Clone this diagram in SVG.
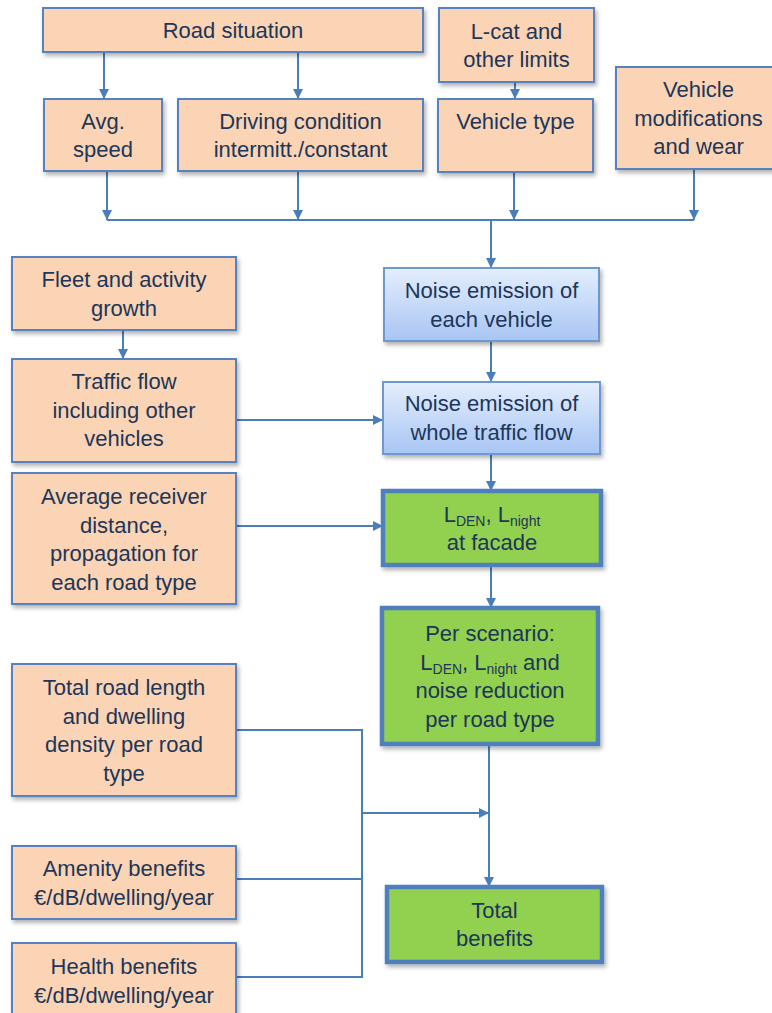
<svg xmlns="http://www.w3.org/2000/svg" width="772" height="1013" viewBox="0 0 772 1013">
<style>
.peach{fill:#FAD4B4;stroke:#5683BF;stroke-width:2}
.blue{fill:url(#bg);stroke:#6E98D0;stroke-width:2}
.green{fill:#92D050;stroke:#4F7FBD;stroke-width:4.5}
text{font-family:"Liberation Sans",Arial,sans-serif;font-size:22px;fill:#1D3659;text-anchor:middle}
.sub{font-size:14px}
.c{fill:none;stroke:#4A7EBB;stroke-width:2}
</style>
<defs>
<linearGradient id="bg" x1="0" y1="0" x2="0" y2="1">
<stop offset="0" stop-color="#E4EEFD"/>
<stop offset="1" stop-color="#A8C5F4"/>
</linearGradient>
<filter id="sh" x="-10%" y="-10%" width="130%" height="140%">
<feDropShadow dx="2" dy="3" stdDeviation="2" flood-color="#000" flood-opacity="0.3"/>
</filter>
<marker id="ah" markerUnits="userSpaceOnUse" markerWidth="12" markerHeight="12" refX="10" refY="5" orient="auto">
<path d="M0,0 L10,5 L0,10 z" fill="#4A7EBB"/>
</marker>
</defs>

<g id="connectors">
<path class="c" d="M104,52 V99" marker-end="url(#ah)"/>
<path class="c" d="M298,52 V99" marker-end="url(#ah)"/>
<path class="c" d="M515,82 V99" marker-end="url(#ah)"/>
<path class="c" d="M107,171 V220" marker-end="url(#ah)"/>
<path class="c" d="M298,171 V220" marker-end="url(#ah)"/>
<path class="c" d="M514,172 V220" marker-end="url(#ah)"/>
<path class="c" d="M694,169 V220" marker-end="url(#ah)"/>
<path class="c" d="M107,220 H694"/>
<path class="c" d="M491,220 V268" marker-end="url(#ah)"/>
<path class="c" d="M123,330 V359" marker-end="url(#ah)"/>
<path class="c" d="M491,341 V382" marker-end="url(#ah)"/>
<path class="c" d="M236,420 H383" marker-end="url(#ah)"/>
<path class="c" d="M491,454 V491" marker-end="url(#ah)"/>
<path class="c" d="M236,526 H383" marker-end="url(#ah)"/>
<path class="c" d="M491,565 V608" marker-end="url(#ah)"/>
<path class="c" d="M489,744 V887" marker-end="url(#ah)"/>
<path class="c" d="M236,730 H362 V977 H236"/>
<path class="c" d="M236,879 H362"/>
<path class="c" d="M362,813 H489" marker-end="url(#ah)"/>
</g>

<g id="road-situation">
<rect class="peach" filter="url(#sh)" x="43" y="8" width="380" height="44"/>
<text x="233" y="38">Road situation</text>
</g>
<g id="lcat">
<rect class="peach" filter="url(#sh)" x="439" y="8" width="155" height="74"/>
<text x="516.5" y="38.5">L-cat and</text>
<text x="516.5" y="67">other limits</text>
</g>
<g id="avg-speed">
<rect class="peach" filter="url(#sh)" x="44" y="99" width="118" height="72"/>
<text x="103" y="128.5">Avg.</text>
<text x="103" y="157">speed</text>
</g>
<g id="driving-condition">
<rect class="peach" filter="url(#sh)" x="178" y="99" width="245" height="72"/>
<text x="300.5" y="128.5">Driving condition</text>
<text x="300.5" y="157">intermitt./constant</text>
</g>
<g id="vehicle-type">
<rect class="peach" filter="url(#sh)" x="438" y="99" width="155" height="73"/>
<text x="515.5" y="128.5">Vehicle type</text>
</g>
<g id="vehicle-mod">
<rect class="peach" filter="url(#sh)" x="616" y="67" width="165" height="102"/>
<text x="698.5" y="97">Vehicle</text>
<text x="698.5" y="125.5">modifications</text>
<text x="698.5" y="154">and wear</text>
</g>

<g id="fleet">
<rect class="peach" filter="url(#sh)" x="12" y="257" width="224" height="73"/>
<text x="124" y="287">Fleet and activity</text>
<text x="124" y="315.5">growth</text>
</g>
<g id="traffic-flow">
<rect class="peach" filter="url(#sh)" x="12" y="359" width="224" height="103"/>
<text x="124" y="389">Traffic flow</text>
<text x="124" y="417.5">including other</text>
<text x="124" y="446">vehicles</text>
</g>
<g id="receiver">
<rect class="peach" filter="url(#sh)" x="12" y="473" width="224" height="131"/>
<text x="124" y="504">Average receiver</text>
<text x="124" y="532.5">distance,</text>
<text x="124" y="561">propagation for</text>
<text x="124" y="589.5">each road type</text>
</g>

<g id="noise-vehicle">
<rect class="blue" filter="url(#sh)" x="384" y="268" width="215" height="73"/>
<text x="491.5" y="298">Noise emission of</text>
<text x="491.5" y="326.5">each vehicle</text>
</g>
<g id="noise-flow">
<rect class="blue" filter="url(#sh)" x="383" y="382" width="217" height="72"/>
<text x="491.5" y="411">Noise emission of</text>
<text x="491.5" y="439.5">whole traffic flow</text>
</g>
<g id="facade">
<rect class="green" filter="url(#sh)" x="383" y="491" width="218" height="74"/>
<text x="492" y="521.5">L<tspan class="sub" dy="4">DEN</tspan><tspan dy="-4">, L</tspan><tspan class="sub" dy="4">night</tspan></text>
<text x="492" y="550">at facade</text>
</g>
<g id="per-scenario">
<rect class="green" filter="url(#sh)" x="382" y="608" width="216" height="136"/>
<text x="490" y="641">Per scenario:</text>
<text x="490" y="669.5">L<tspan class="sub" dy="4">DEN</tspan><tspan dy="-4">, L</tspan><tspan class="sub" dy="4">night</tspan><tspan dy="-4"> and</tspan></text>
<text x="490" y="698">noise reduction</text>
<text x="490" y="726.5">per road type</text>
</g>

<g id="road-length">
<rect class="peach" filter="url(#sh)" x="12" y="664" width="224" height="132"/>
<text x="124" y="695">Total road length</text>
<text x="124" y="723.5">and dwelling</text>
<text x="124" y="752">density per road</text>
<text x="124" y="780.5">type</text>
</g>
<g id="amenity">
<rect class="peach" filter="url(#sh)" x="12" y="846" width="224" height="73"/>
<text x="124" y="876">Amenity benefits</text>
<text x="124" y="904.5">€/dB/dwelling/year</text>
</g>
<g id="health">
<rect class="peach" filter="url(#sh)" x="12" y="943" width="224" height="76"/>
<text x="124" y="974">Health benefits</text>
<text x="124" y="1002.5">€/dB/dwelling/year</text>
</g>
<g id="total-benefits">
<rect class="green" filter="url(#sh)" x="387" y="887" width="215" height="75"/>
<text x="494.5" y="917.5">Total</text>
<text x="494.5" y="946">benefits</text>
</g>
</svg>
